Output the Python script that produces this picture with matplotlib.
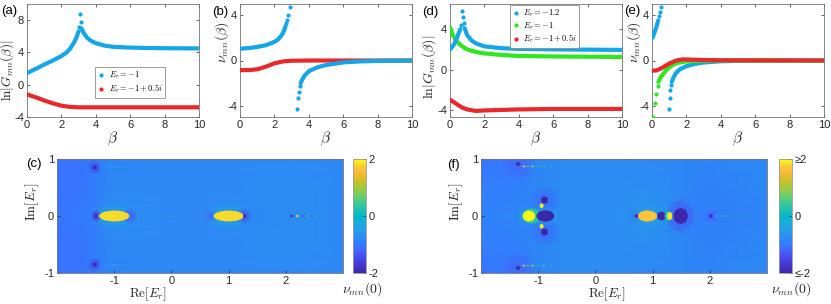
import matplotlib
matplotlib.use('Agg')
import matplotlib.pyplot as plt
from matplotlib.colors import LinearSegmentedColormap, Normalize
from matplotlib.patches import Ellipse
from matplotlib.lines import Line2D
import matplotlib.cm as cm

# ---------------- data ----------------
# (a) ln|G_mn(beta)|
a_beta_b1 = [0, 0.5, 1, 1.5, 2, 2.3, 2.5, 2.7, 2.85, 2.95, 3.0]
a_ln_b1 = [1.45, 1.95, 2.5, 3.0, 3.55, 4.0, 4.45, 5.1, 5.7, 6.3, 6.6]
a_beta_peak = [3.04, 3.08, 3.12, 3.16]
a_ln_peak = [7.2, 8.7, 7.8, 7.0]
a_beta_b2 = [3.2, 3.3, 3.5, 3.75, 4, 4.5, 5, 6, 7, 8, 10]
a_ln_b2 = [6.8, 6.4, 5.8, 5.4, 5.15, 4.85, 4.7, 4.6, 4.55, 4.52, 4.5]
a_beta_r = [0, 0.5, 1, 1.5, 2, 2.5, 3, 4, 10]
a_ln_r = [-1.2, -1.55, -1.95, -2.3, -2.6, -2.75, -2.8, -2.8, -2.8]

# (b) nu_mn(beta)
b_beta_b1 = [0, 0.5, 1, 1.5, 2, 2.2, 2.4, 2.5, 2.6, 2.65]
b_nu_b1 = [1.04, 1.1, 1.2, 1.35, 1.65, 1.85, 2.2, 2.45, 2.8, 3.05]
b_beta_s1 = [2.70, 2.75, 2.81, 2.89]
b_nu_s1 = [3.3, 3.55, 4.0, 4.75]
b_beta_s2 = [3.33, 3.39, 3.43, 3.49]
b_nu_s2 = [-4.26, -3.33, -2.75, -2.29]
b_beta_b2 = [3.53, 3.6, 3.75, 4, 4.5, 5, 6, 7, 8, 10]
b_nu_b2 = [-2.0, -1.75, -1.35, -0.95, -0.6, -0.4, -0.17, -0.08, -0.04, -0.01]
b_beta_r = [0, 0.5, 1, 1.5, 2, 2.5, 3, 4, 10]
b_nu_r = [-0.85, -0.85, -0.78, -0.55, -0.25, -0.08, -0.02, 0, 0]

# (d) ln|G_mn(beta)|, three energies
d_beta_b1 = [0, 0.2, 0.4, 0.5, 0.6]
d_ln_b1 = [2.0, 2.4, 3.1, 3.6, 4.0]
d_beta_peak = [0.66, 0.72, 0.76, 0.8]
d_ln_peak = [4.4, 5.8, 5.2, 4.6]
d_beta_b2 = [0.85, 1.0, 1.25, 1.5, 2, 3, 4, 6, 10]
d_ln_b2 = [4.1, 3.4, 2.9, 2.6, 2.3, 2.12, 2.05, 2.0, 1.95]
d_beta_g = [0, 0.1, 0.2, 0.35, 0.5, 0.75, 1, 1.5, 2, 3, 4, 6, 10]
d_ln_g = [4.2, 3.7, 3.3, 2.9, 2.6, 2.25, 2.0, 1.75, 1.6, 1.45, 1.35, 1.3, 1.25]
d_beta_r = [0, 0.25, 0.5, 0.75, 1, 1.5, 2, 3, 4, 6, 10]
d_ln_r = [-3.0, -3.25, -3.55, -3.8, -3.95, -4.1, -4.05, -4.0, -3.95, -3.9, -3.9]

# (e) nu_mn(beta), three energies
e_beta_b1 = [0.03, 0.1, 0.2, 0.3, 0.36]
e_nu_b1 = [2.0, 2.3, 2.7, 3.2, 3.55]
e_beta_s1 = [0.42, 0.47, 0.53]
e_nu_s1 = [3.9, 4.25, 4.75]
e_beta_s2 = [0.99, 1.04, 1.07, 1.12]
e_nu_s2 = [-4.26, -3.33, -2.65, -2.2]
e_beta_b2 = [1.15, 1.25, 1.4, 1.6, 2, 2.5, 3, 4, 5, 10]
e_nu_b2 = [-1.9, -1.5, -1.1, -0.8, -0.5, -0.3, -0.18, -0.07, -0.03, 0]
e_beta_gs = [0.05, 0.15, 0.24, 0.32]
e_nu_gs = [-4.96, -3.77, -2.95, -2.3]
e_beta_g = [0.37, 0.5, 0.65, 0.8, 1, 1.25, 1.5, 2, 3, 4, 10]
e_nu_g = [-1.9, -1.5, -1.2, -0.9, -0.6, -0.35, -0.2, -0.08, -0.02, 0, 0]
e_beta_r = [0, 0.25, 0.5, 0.75, 1, 1.25, 1.5, 1.8, 2.2, 3, 4, 10]
e_nu_r = [-0.9, -0.88, -0.72, -0.5, -0.28, -0.1, 0.03, 0.1, 0.08, 0.04, 0.02, 0]

# (c), (f) nu_mn(0) over complex E_r: coarse background + localized features
re_grid = [-2.0, -1.6, -1.35, -1.1, -0.5, 0.0, 0.5, 1.0, 1.5, 2.0, 2.5, 3.0]
im_grid = [-1.0, -0.5, 0.0, 0.5, 1.0]
c_bg = [
    [-1.05, -1.05, -1.0, -0.85, -0.8, -0.8, -0.8, -0.8, -0.8, -0.8, -0.8, -0.8],
    [-1.05, -1.05, -0.95, -0.8, -0.8, -0.8, -0.8, -0.8, -0.75, -0.72, -0.75, -0.8],
    [-1.05, -1.0, -1.0, -0.7, -0.75, -0.8, -0.8, -0.7, -0.8, -0.72, -0.75, -0.8],
    [-1.05, -1.05, -0.95, -0.8, -0.8, -0.8, -0.8, -0.8, -0.75, -0.72, -0.75, -0.8],
    [-1.05, -1.05, -1.0, -0.85, -0.8, -0.8, -0.8, -0.8, -0.8, -0.8, -0.8, -0.8],
]
f_bg = [
    [-1.05, -1.0, -1.0, -0.85, -0.75, -0.75, -0.75, -0.8, -0.8, -0.85, -0.8, -0.8],
    [-0.95, -0.95, -0.9, -0.85, -0.75, -0.75, -0.75, -0.75, -0.8, -0.9, -0.85, -0.8],
    [-0.9, -0.85, -0.8, -0.8, -0.75, -0.75, -0.7, -0.6, -0.9, -0.95, -0.9, -0.85],
    [-0.95, -0.95, -0.9, -0.85, -0.75, -0.75, -0.75, -0.75, -0.8, -0.9, -0.85, -0.8],
    [-1.05, -1.0, -1.0, -0.85, -0.75, -0.75, -0.75, -0.8, -0.8, -0.85, -0.8, -0.8],
]

# soft halos: centre re, centre im, width, height, value
c_halo_re = [-1.0, 1.0, -0.72, 1.27, 0.68, -1.32, -1.34, -1.34]
c_halo_im = [0, 0, 0, 0, 0, 0, 0.85, -0.85]
c_halo_w = [0.85, 0.85, 0.26, 0.26, 0.22, 0.18, 0.22, 0.22]
c_halo_h = [0.42, 0.42, 0.26, 0.26, 0.22, 0.22, 0.22, 0.22]
c_halo_v = [-0.4, -0.4, -1.25, -1.35, -1.15, -1.5, -1.45, -1.45]
# sharp features
c_spot_re = [-1.0, 1.0, -1.32, 1.28, -1.34, -1.34, -0.95, -0.95, 0.0,
             2.1, 2.2, 2.3, 2.37, 2.45, 2.55, 2.68]
c_spot_im = [0, 0, 0, 0, 0.85, -0.85, 0.85, -0.85, 0,
             0, 0, 0, 0, 0, 0, 0]
c_spot_w = [0.53, 0.53, 0.06, 0.05, 0.08, 0.08, 0.65, 0.65, 0.03,
            0.06, 0.05, 0.03, 0.03, 0.03, 0.03, 0.03]
c_spot_h = [0.19, 0.19, 0.09, 0.08, 0.07, 0.07, 0.015, 0.015, 0.03,
            0.04, 0.04, 0.03, 0.03, 0.03, 0.03, 0.03]
c_spot_v = [1.8, 1.8, -1.9, -1.9, -1.9, -1.9, -0.4, -0.4, 0.3,
            -1.8, 1.7, -1.5, 0.8, -1.2, 0.3, 0.2]

f_halo_re = [-1.35, -1.35, -0.89, -0.89, -1.0, 0.7, 1.0, 1.49, 2.02]
f_halo_im = [0.9, -0.9, 0.28, -0.28, 0, 0, 0, 0, 0]
f_halo_w = [0.55, 0.55, 0.5, 0.5, 0.7, 0.22, 0.85, 0.5, 0.22]
f_halo_h = [0.5, 0.5, 0.45, 0.45, 0.32, 0.22, 0.35, 0.55, 0.22]
f_halo_v = [-1.15, -1.15, -1.1, -1.1, -0.3, -1.2, -0.45, -1.3, -1.2]
f_spot_re = [-1.12, -1.16, -0.875, -0.94, -0.94, -0.89, -0.89,
             0.91, 0.72, 1.16, 1.27, 1.3, 1.49, 2.02,
             2.12, 2.2, 2.28, 2.38, 2.5, 2.65,
             -1.35, -1.35, -1.25, -1.18, -1.1, -1.0, -0.9, -0.78,
             -1.25, -1.18, -1.1, -1.0, -0.9, -0.78]
f_spot_im = [0, 0, 0, 0.18, -0.18, 0.28, -0.28,
             0, 0, 0, 0, 0, 0, 0,
             0, 0, 0, 0, 0, 0,
             0.91, -0.91, 0.87, 0.87, 0.87, 0.87, 0.87, 0.87,
             -0.87, -0.87, -0.87, -0.87, -0.87, -0.87]
f_spot_w = [0.32, 0.22, 0.31, 0.07, 0.07, 0.12, 0.12,
            0.34, 0.06, 0.16, 0.12, 0.09, 0.25, 0.06,
            0.04, 0.03, 0.03, 0.03, 0.03, 0.03,
            0.08, 0.08, 0.05, 0.06, 0.05, 0.06, 0.05, 0.04,
            0.05, 0.06, 0.05, 0.06, 0.05, 0.04]
f_spot_h = [0.26, 0.19, 0.2, 0.08, 0.08, 0.13, 0.13,
            0.19, 0.07, 0.15, 0.16, 0.14, 0.27, 0.07,
            0.03, 0.03, 0.03, 0.03, 0.03, 0.03,
            0.07, 0.07, 0.03, 0.03, 0.03, 0.03, 0.03, 0.03,
            0.03, 0.03, 0.03, 0.03, 0.03, 0.03]
f_spot_v = [0.3, 2.0, -2.0, 1.9, 1.9, -2.0, -2.0,
            1.7, -1.9, -2.0, 0.3, 1.9, -2.0, -1.9,
            0.2, 0.5, 0.3, 0.6, 0.3, 0.1,
            -1.9, -1.9, 1.5, 0.3, 1.0, 0.0, 0.3, -0.2,
            1.5, 0.3, 1.0, 0.0, 0.3, -0.2]

# ---------------- style ----------------
plt.rcParams['font.family'] = ['Liberation Sans', 'DejaVu Sans']
plt.rcParams['mathtext.fontset'] = 'cm'
plt.rcParams['axes.unicode_minus'] = False
plt.rcParams['font.size'] = 8
TXT = '0.15'

BLUE = '#14A6E6'
RED = '#E8282B'
GREEN = '#30E620'

parula = LinearSegmentedColormap.from_list('parula', [
    (0.00, (0.242, 0.150, 0.660)), (0.10, (0.275, 0.243, 0.884)),
    (0.20, (0.270, 0.397, 0.992)), (0.25, (0.200, 0.480, 0.991)),
    (0.30, (0.177, 0.535, 0.964)), (0.35, (0.154, 0.590, 0.922)),
    (0.40, (0.130, 0.636, 0.893)), (0.45, (0.091, 0.683, 0.856)),
    (0.50, (0.005, 0.719, 0.794)), (0.55, (0.114, 0.753, 0.702)),
    (0.60, (0.200, 0.779, 0.615)), (0.65, (0.330, 0.800, 0.488)),
    (0.70, (0.490, 0.800, 0.359)), (0.75, (0.643, 0.784, 0.242)),
    (0.80, (0.783, 0.758, 0.161)), (0.85, (0.900, 0.734, 0.175)),
    (0.90, (0.990, 0.737, 0.243)), (0.93, (0.997, 0.775, 0.214)),
    (0.96, (0.965, 0.878, 0.158)), (1.00, (0.977, 0.984, 0.081))])
norm = Normalize(-2, 2)

W, H = 831, 304
fig = plt.figure(figsize=(W / 100, H / 100), dpi=100)


def px_axes(x0, y0, x1, y1):
    return fig.add_axes([x0 / W, 1 - y1 / H, (x1 - x0) / W, (y1 - y0) / H])


def curve(ax, xs, ys, color):
    ax.plot(xs, ys, '-', color=color, lw=3.0, solid_capstyle='round', zorder=3)


def dots(ax, xs, ys, color):
    ax.plot(xs, ys, 'o', color=color, ms=3.0, mec='none', zorder=3)


def line_axes(ax, ylim, yticks, ylabel, ylab_x, ylab_y, ylab_size=10):
    ax.set_xlim(0, 10)
    ax.set_xticks([0, 2, 4, 6, 8, 10])
    ax.set_ylim(*ylim)
    ax.set_yticks(yticks)
    ax.tick_params(direction='in', length=2.5, width=0.5, top=True, right=True,
                   labelsize=8, colors=TXT, pad=2)
    for s in ax.spines.values():
        s.set_linewidth(0.6)
        s.set_color('0.45')
    ax.set_xlabel(r'$\beta$', fontsize=11, color=TXT, labelpad=0)
    ax.set_ylabel(ylabel, fontsize=ylab_size, color=TXT, labelpad=0)
    ax.yaxis.set_label_coords(ylab_x, ylab_y)


def legend(ax, colors, labels, center):
    handles = [Line2D([], [], ls='none', marker='o', ms=3, mec='none', color=c)
               for c in colors]
    lg = ax.legend(handles, labels, loc='center', bbox_to_anchor=center,
                   fontsize=6, handlelength=0.8, handletextpad=0.5,
                   borderpad=0.3, labelspacing=0.15, fancybox=False,
                   framealpha=1, edgecolor='0.55')
    lg.get_frame().set_linewidth(0.6)


def field_axes(ax, bg, halo, spot, xlab_x):
    ax.pcolormesh(re_grid, im_grid, bg, shading='gouraud', cmap=parula, norm=norm)
    for re, im, w, h, v in zip(*halo):
        for k in (1.0, 0.75, 0.5):
            ax.add_patch(Ellipse((re, im), w * k, h * k, color=parula(norm(v)),
                                 alpha=0.35, lw=0))
    for re, im, w, h, v in zip(*spot):
        ax.add_patch(Ellipse((re, im), w, h, color=parula(norm(v)), lw=0))
    ax.set_xlim(-2, 3)
    ax.set_ylim(-1, 1)
    ax.set_xticks([-1, 0, 1, 2])
    ax.set_yticks([-1, 0, 1])
    ax.tick_params(direction='in', length=2, width=0.5, labelsize=8, colors=TXT, pad=2)
    for s in ax.spines.values():
        s.set_linewidth(0.6)
        s.set_color('0.45')
    ax.set_xlabel(r'$\mathrm{Re}[E_r]$', fontsize=9.5, color=TXT, labelpad=1)
    ax.xaxis.set_label_coords(xlab_x, -0.105)
    ax.set_ylabel(r'$\mathrm{Im}[E_r]$', fontsize=9.5, color=TXT, labelpad=1)
    ax.yaxis.set_label_coords(-0.055, 0.62)


def colorbar(box, labels, label_x):
    cax = px_axes(*box)
    cb = fig.colorbar(cm.ScalarMappable(norm=norm, cmap=parula), cax=cax,
                      ticks=[-2, 0, 2])
    cb.set_ticklabels(labels)
    cax.tick_params(direction='in', length=2, width=0.5, labelsize=8, colors=TXT, pad=2)
    cb.outline.set_linewidth(0.6)
    cb.outline.set_edgecolor('0.6')
    fig.text(label_x / W, 1 - 289 / H, r'$\nu_{mn}(0)$', ha='center', va='center',
             fontsize=10, color=TXT)


# ---------------- (a) ----------------
ax = px_axes(27, 4, 199, 117)
curve(ax, a_beta_r, a_ln_r, RED)
curve(ax, a_beta_b1, a_ln_b1, BLUE)
curve(ax, a_beta_b2, a_ln_b2, BLUE)
dots(ax, a_beta_peak, a_ln_peak, BLUE)
line_axes(ax, (-4, 10), [-4, 0, 4, 8], r'$\ln|G_{mn}(\beta)|$', -0.062, 0.41, 9.5)
legend(ax, [BLUE, RED], [r'$E_r=-1$', r'$E_r=-1+0.5i$'], (0.6, 0.305))

# ---------------- (b) ----------------
ax = px_axes(240, 4, 412, 117)
curve(ax, b_beta_r, b_nu_r, RED)
curve(ax, b_beta_b1, b_nu_b1, BLUE)
dots(ax, b_beta_s1, b_nu_s1, BLUE)
dots(ax, b_beta_s2, b_nu_s2, BLUE)
curve(ax, b_beta_b2, b_nu_b2, BLUE)
line_axes(ax, (-5, 5), [-4, 0, 4], r'$\nu_{mn}(\beta)$', -0.05, 0.66)

# ---------------- (d) ----------------
ax = px_axes(450, 4, 622, 117)
curve(ax, d_beta_r, d_ln_r, RED)
curve(ax, d_beta_g, d_ln_g, GREEN)
curve(ax, d_beta_b1, d_ln_b1, BLUE)
dots(ax, d_beta_peak, d_ln_peak, BLUE)
curve(ax, d_beta_b2, d_ln_b2, BLUE)
line_axes(ax, (-4.7, 6.5), [-4, 0, 4], r'$\ln|G_{mn}(\beta)|$', -0.07, 0.44)
legend(ax, [BLUE, GREEN, RED],
       [r'$E_r=-1.2$', r'$E_r=-1$', r'$E_r=-1+0.5i$'], (0.55, 0.80))

# ---------------- (e) ----------------
ax = px_axes(652, 4, 824, 117)
curve(ax, e_beta_b2, e_nu_b2, BLUE)
dots(ax, e_beta_s2, e_nu_s2, BLUE)
curve(ax, e_beta_b1, e_nu_b1, BLUE)
dots(ax, e_beta_s1, e_nu_s1, BLUE)
curve(ax, e_beta_g, e_nu_g, GREEN)
dots(ax, e_beta_gs, e_nu_gs, GREEN)
curve(ax, e_beta_r, e_nu_r, RED)
line_axes(ax, (-5, 5), [-4, 0, 4], r'$\nu_{mn}(\beta)$', -0.05, 0.66)

# ---------------- (c) ----------------
ax = px_axes(57, 159, 343, 273)
field_axes(ax, c_bg,
           (c_halo_re, c_halo_im, c_halo_w, c_halo_h, c_halo_v),
           (c_spot_re, c_spot_im, c_spot_w, c_spot_h, c_spot_v), 0.32)
colorbar((353, 159, 366, 273), ['-2', '0', '2'], 362)

# ---------------- (f) ----------------
ax = px_axes(481, 159, 767, 273)
field_axes(ax, f_bg,
           (f_halo_re, f_halo_im, f_halo_w, f_halo_h, f_halo_v),
           (f_spot_re, f_spot_im, f_spot_w, f_spot_h, f_spot_v), 0.44)
colorbar((779, 159, 792, 273), ['≤-2', '0', '≥2'], 791)

# panel labels
for lab, x, y in [('(a)', 1, 11), ('(b)', 212, 12), ('(d)', 422, 12),
                  ('(e)', 624, 11), ('(c)', 26, 164), ('(f)', 447, 165)]:
    fig.text(x / W, 1 - y / H, lab, ha='left', va='center', fontsize=9.5, color='k')

fig.savefig('out.png', dpi=100)
